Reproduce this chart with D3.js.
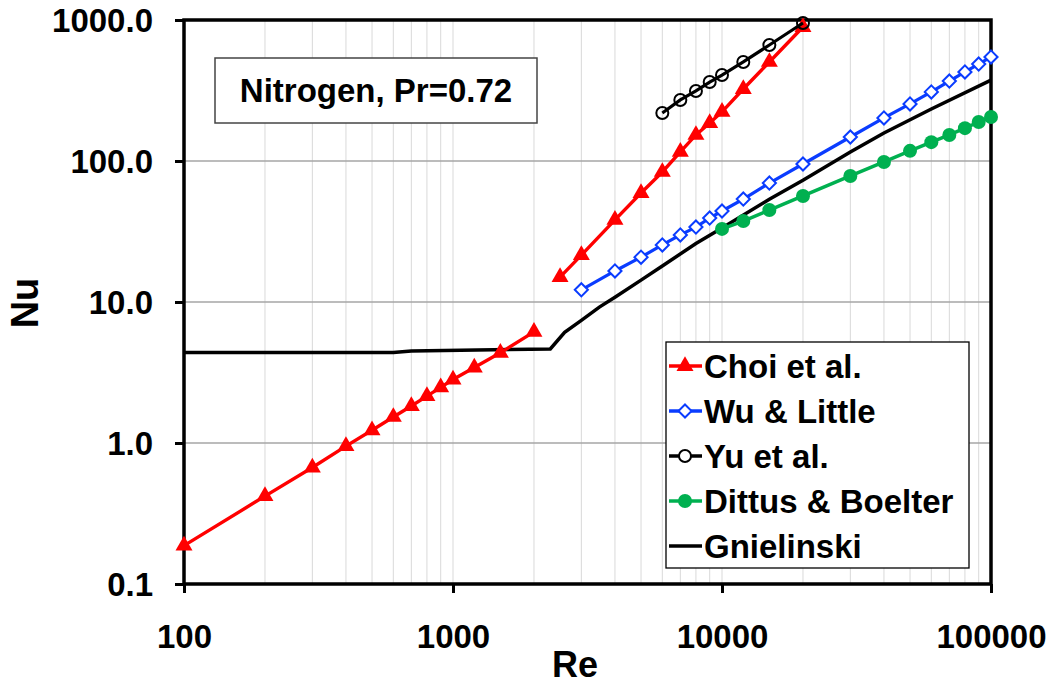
<!DOCTYPE html>
<html><head><meta charset="utf-8">
<script src="https://cdn.jsdelivr.net/npm/d3@7"></script>
<style>
html,body{margin:0;padding:0;background:#fff;}
svg{display:block;font-family:"Liberation Sans",Arial,sans-serif;font-weight:bold;}
</style></head>
<body>
<svg id="c" width="1054" height="684"></svg>
<script>
// ---- data ----
const choiLamRe = [100,200,300,400,500,600,700,800,900,1000,1200,1500,2000];
const choiLamNu = [0.187,0.42,0.67,0.95,1.23,1.53,1.83,2.15,2.48,2.82,3.43,4.36,6.14];
const choiTurbRe = [2500,3000,4000,5000,6000,7000,8000,9000,10000,12000,15000,20000];
const choiTurbNu = [15.0,21.5,38.2,59.3,83.6,116,153,186,223,324,504,892];
const wuRe = [3000,4000,5000,6000,7000,8000,9000,10000,12000,15000,20000,30000,40000,50000,60000,70000,80000,90000,100000];
const wuNu = [12.2,16.6,20.8,25.4,29.9,34.0,39.4,44.2,53.7,69.8,95.2,148,202,254,309,369,428,487,547];
const yuRe = [6000,7000,8000,9000,10000,12000,15000,20000];
const yuNu = [219,271,314,363,407,504,665,952];
const dbRe = [10000,12000,15000,20000,30000,40000,50000,60000,70000,80000,90000,100000];
const dbNu = [33.0,37.5,44.9,56.5,78.3,98.4,118,136,153,171,189,205];
const gnRe = [100,600,700,2300,2600,3000,3500,4000,5000,6000,8000,10000,15000,20000,30000,40000,60000,100000];
const gnNu = [4.38,4.38,4.5,4.65,6.1,7.4,9.2,10.8,14.3,18.0,26.0,33.5,53.5,73,116,158,234,375];
const xTickVals = [100,1000,10000,100000];
const xTickLabels = ["100","1000","10000","100000"];
const yTickVals = [0.1,1,10,100,1000];
const yTickLabels = ["0.1","1.0","10.0","100.0","1000.0"];
const legendLabels = ["Choi et al.","Wu & Little","Yu et al.","Dittus & Boelter","Gnielinski"];

// ---- layout ----
const L=184, R=991, T=20, B=584;
const svg = d3.select("#c");
const x = d3.scaleLog().domain([100,100000]).range([L,R]);
const y = d3.scaleLog().domain([0.1,1000]).range([B,T]);

// grid
const minorX = [];
for (let d=100; d<100000; d*=10) for (let k=1;k<10;k++) if (!(d===100&&k===1)) minorX.push(d*k);
svg.append("g").selectAll("line").data(minorX).join("line")
  .attr("x1",d=>x(d)).attr("x2",d=>x(d)).attr("y1",T).attr("y2",B)
  .attr("stroke","#d9d9d9").attr("stroke-width",1);
svg.append("g").selectAll("line").data(yTickVals.slice(1,-1)).join("line")
  .attr("x1",L).attr("x2",R).attr("y1",d=>y(d)).attr("y2",d=>y(d))
  .attr("stroke","#a6a6a6").attr("stroke-width",1.3);

// axes
const xAxis = svg.append("g").attr("transform",`translate(0,${B})`)
  .call(d3.axisBottom(x).tickValues(xTickVals).tickFormat((d,i)=>xTickLabels[i]).tickSize(9).tickPadding(0));
xAxis.select(".domain").remove();
xAxis.selectAll(".tick line").attr("stroke","#000").attr("stroke-width",3);
xAxis.selectAll(".tick text").attr("font-size",33).attr("font-weight","bold").attr("fill","#000")
  .attr("dy",null).attr("y",64).attr("font-family","Liberation Sans, Arial, sans-serif");

const yAxis = svg.append("g").attr("transform",`translate(${L},0)`)
  .call(d3.axisLeft(y).tickValues(yTickVals).tickFormat((d,i)=>yTickLabels[i]).tickSize(9).tickPadding(0));
yAxis.select(".domain").remove();
yAxis.selectAll(".tick line").attr("stroke","#000").attr("stroke-width",3);
yAxis.selectAll(".tick text").attr("font-size",33).attr("font-weight","bold").attr("fill","#000")
  .attr("x",-31).attr("dy","0.36em").attr("font-family","Liberation Sans, Arial, sans-serif");

// frame
svg.append("rect").attr("x",L).attr("y",T).attr("width",R-L).attr("height",B-T)
  .attr("fill","none").attr("stroke","#000").attr("stroke-width",3.5);

// axis titles
svg.append("text").attr("x",575).attr("y",677).attr("text-anchor","middle")
  .attr("font-size",36).text("Re");
svg.append("text").attr("transform","translate(38,303) rotate(-90)").attr("text-anchor","middle")
  .attr("font-size",38).text("Nu");

// series
const line = d3.line().x(d=>x(d[0])).y(d=>y(d[1]));
const zip = (a,b)=>a.map((v,i)=>[v,b[i]]);
const plot = svg.append("g");

const RED="#ff0000", BLUE="#0a3cff", GREEN="#00b050", BLACK="#000";

// Gnielinski
plot.append("path").attr("d",line(zip(gnRe,gnNu))).attr("fill","none").attr("stroke",BLACK).attr("stroke-width",3.5);

// Dittus
const db = zip(dbRe,dbNu);
plot.append("path").attr("d",line(db)).attr("fill","none").attr("stroke",GREEN).attr("stroke-width",3.5);
plot.append("g").selectAll("circle").data(db).join("circle")
  .attr("cx",d=>x(d[0])).attr("cy",d=>y(d[1])).attr("r",7).attr("fill",GREEN);

// Wu
const wu = zip(wuRe,wuNu);
plot.append("path").attr("d",line(wu)).attr("fill","none").attr("stroke",BLUE).attr("stroke-width",3.2);
const diamond = d3.symbol().type(d3.symbolDiamond2).size(110);
plot.append("g").selectAll("path").data(wu).join("path")
  .attr("d",diamond).attr("transform",d=>`translate(${x(d[0])},${y(d[1])})`)
  .attr("fill","#fff").attr("stroke",BLUE).attr("stroke-width",2);

// Choi
const tri = d3.symbol().type(d3.symbolTriangle).size(125);
[zip(choiLamRe,choiLamNu), zip(choiTurbRe,choiTurbNu)].forEach(s=>{
  plot.append("path").attr("d",line(s)).attr("fill","none").attr("stroke",RED).attr("stroke-width",3.4);
  plot.append("g").selectAll("path").data(s).join("path")
    .attr("d",tri).attr("transform",d=>`translate(${x(d[0])},${y(d[1])})`).attr("fill",RED);
});

// Yu
const yu = zip(yuRe,yuNu);
plot.append("path").attr("d",line(yu)).attr("fill","none").attr("stroke",BLACK).attr("stroke-width",3.2);
plot.append("g").selectAll("circle").data(yu).join("circle")
  .attr("cx",d=>x(d[0])).attr("cy",d=>y(d[1])).attr("r",6).attr("fill","none")
  .attr("stroke",BLACK).attr("stroke-width",2);

// annotation box
svg.append("rect").attr("x",215).attr("y",58).attr("width",322).attr("height",65)
  .attr("fill","#fff").attr("stroke","#444").attr("stroke-width",1.5);
svg.append("text").attr("x",376).attr("y",102).attr("text-anchor","middle")
  .attr("font-size",33).text("Nitrogen, Pr=0.72");

// legend
const lg = svg.append("g");
lg.append("rect").attr("x",666).attr("y",342).attr("width",303).attr("height",226)
  .attr("fill","#fff").attr("stroke","#000").attr("stroke-width",1.3);
const legColors=[RED,BLUE,BLACK,GREEN,BLACK];
legendLabels.forEach((lab,i)=>{
  const cy = 366 + i*45;
  lg.append("line").attr("x1",669).attr("x2",702).attr("y1",cy).attr("y2",cy)
    .attr("stroke",legColors[i]).attr("stroke-width",3.4);
  if(i===0) lg.append("path").attr("d",tri).attr("transform",`translate(685,${cy})`).attr("fill",RED);
  if(i===1) lg.append("path").attr("d",diamond).attr("transform",`translate(685,${cy})`).attr("fill","#fff").attr("stroke",BLUE).attr("stroke-width",2);
  if(i===2) lg.append("circle").attr("cx",685).attr("cy",cy).attr("r",6).attr("fill","#fff").attr("stroke",BLACK).attr("stroke-width",2);
  if(i===3) lg.append("circle").attr("cx",685).attr("cy",cy).attr("r",7).attr("fill",GREEN);
  lg.append("text").attr("x",704).attr("y",cy+12).attr("font-size",33).text(lab);
});
</script>
</body></html>
